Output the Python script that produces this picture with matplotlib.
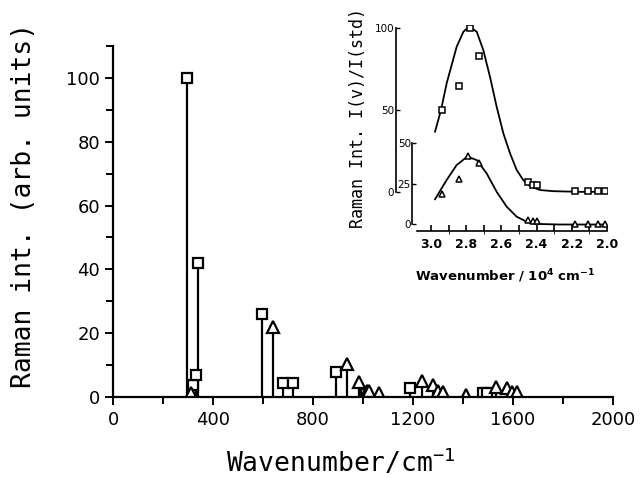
import numpy as np
import matplotlib
matplotlib.use("Agg")
import matplotlib.pyplot as plt

# main spectrum: squares and triangles (wavenumber / cm-1, relative intensity)
sq_wn = [296, 318, 331, 340, 594, 681, 721, 893, 1012, 1187, 1478, 1494]
sq_int = [100, 3.8, 6.9, 42, 26, 4.5, 4.3, 7.9, 0.8, 2.7, 1.2, 1.2]
tri_wn = [310, 640, 937, 982, 1016, 1024, 1062, 1234, 1278, 1299, 1318, 1410, 1531, 1574, 1594, 1614]
tri_int = [1.3, 22, 10.3, 4.7, 1.9, 1.9, 1.3, 5.1, 3.7, 1.8, 1.5, 0.6, 3.0, 2.8, 1.6, 1.6]

# inset: excitation profiles (10^4 cm-1)
in_sq_x = [2.94, 2.84, 2.78, 2.73, 2.45, 2.42, 2.40, 2.18, 2.11, 2.05, 2.01]
in_sq_y = [50, 64.6, 100, 83, 6, 4.3, 4.3, 0.5, 0.5, 0.5, 0.5]
in_tri_x = [2.94, 2.84, 2.79, 2.73, 2.45, 2.42, 2.40, 2.18, 2.11, 2.05, 2.01]
in_tri_y = [18.6, 28, 42.3, 38, 2.8, 2.2, 2.2, 0.5, 0.5, 0.5, 0.5]
# fitted curves
fit_sq_x = [2.977, 2.943, 2.911, 2.854, 2.816, 2.782, 2.74, 2.703, 2.665, 2.627, 2.589,
            2.551, 2.513, 2.476, 2.438, 2.381, 2.305, 2.153, 2.0]
fit_sq_y = [36.8, 50, 66.3, 88.6, 97.7, 101, 97.7, 86.6, 70.3, 52, 35.8,
            23.6, 13.4, 7.3, 3.7, 1.2, 0.5, 0.1, 0.1]
fit_tri_x = [2.977, 2.911, 2.854, 2.794, 2.74, 2.684, 2.627, 2.57, 2.513, 2.456, 2.381, 2.27, 2.0]
fit_tri_y = [15.6, 27.5, 36.7, 41.9, 39.8, 31.6, 20.2, 11.0, 4.8, 1.7, 0.3, 0.0, 0.0]

W, H = 644, 478
fig = plt.figure(figsize=(W / 100, H / 100), dpi=100)

def box(x0, x1, ytop, ybot):
    return [x0 / W, 1 - ybot / H, (x1 - x0) / W, (ybot - ytop) / H]

# ---- main axes
ax = fig.add_axes(box(113.3, 613, 46, 397))
ax.vlines(sq_wn, 0, sq_int, color="black", lw=1.6)
ax.vlines(tri_wn, 0, tri_int, color="black", lw=1.6)
ax.plot(sq_wn, sq_int, ls="none", marker="s", ms=7.5, mfc="white", mec="black", mew=1.6)
ax.plot(tri_wn, tri_int, ls="none", marker="^", ms=8, mfc="white", mec="black", mew=1.6)
ax.set_xlim(0, 2000)
ax.set_ylim(0, 110)
for s in ["top", "right"]:
    ax.spines[s].set_visible(False)
ax.spines["left"].set_linewidth(1.6)
ax.spines["bottom"].set_linewidth(1.6)
ax.set_xticks(np.arange(0, 2001, 400))
ax.set_xticks(np.arange(0, 2001, 200), minor=True)
ax.set_yticks(np.arange(0, 101, 20))
ax.set_yticks(np.arange(0, 111, 10), minor=True)
ax.tick_params(which="both", direction="out", width=1.4, labelsize=13)
ax.tick_params(which="major", length=6)
ax.tick_params(which="minor", length=5)
ax.tick_params(axis="x", pad=4)

fig.text(24 / W, 1 - 205 / H, "Raman int. (arb. units)", rotation=90,
         ha="center", va="center", fontsize=19, family="DejaVu Sans Mono")
fig.text(341 / W, 1 - 463 / H, r"Wavenumber/cm$^{\mathregular{-1}}$",
         ha="center", va="center", fontsize=19, family="DejaVu Sans Mono")

# ---- inset
ylo0, px_lo = 224.5, 1.62
yup0, px_up = 192, 1.64
ibot, itop = 230.7, 25
ax_lo = fig.add_axes(box(416.7, 607, itop, ibot))
ax_up = fig.add_axes(box(416.7, 607, itop, ibot), sharex=ax_lo)
ax_up.patch.set_visible(False)

ax_lo.plot(fit_tri_x, fit_tri_y, color="black", lw=1.3)
ax_lo.plot(in_tri_x, in_tri_y, ls="none", marker="^", ms=5, mfc="white", mec="black", mew=1.1)
ax_up.plot(fit_sq_x, fit_sq_y, color="black", lw=1.3)
ax_up.plot(in_sq_x, in_sq_y, ls="none", marker="s", ms=4.5, mfc="white", mec="black", mew=1.1)

ax_lo.set_xlim(3.0 + (431 - 416.7) / 176, 2.0)
ax_lo.set_ylim(-(ibot - ylo0) / px_lo, (ylo0 - itop) / px_lo)
ax_up.set_ylim(-(ibot - yup0) / px_up, (yup0 - itop) / px_up)

for s in ["top", "right"]:
    ax_lo.spines[s].set_visible(False)
for s in ["top", "right", "bottom"]:
    ax_up.spines[s].set_visible(False)
ax_lo.spines["left"].set_position(("outward", 3.2))
ax_lo.spines["left"].set_bounds(0, 50)
ax_up.spines["left"].set_position(("outward", 15.1))
ax_up.spines["left"].set_bounds(0, 100)
for a in (ax_lo, ax_up):
    for s in a.spines.values():
        s.set_linewidth(1.2)

ax_lo.set_xticks(np.arange(2.0, 3.01, 0.2))
ax_lo.set_xticks(np.arange(2.0, 3.01, 0.1), minor=True)
ax_lo.xaxis.set_major_formatter(matplotlib.ticker.FormatStrFormatter("%.1f"))
ax_lo.tick_params(axis="x", which="both", direction="in", length=4, width=1.2,
                  labelsize=9, pad=5)
for t in ax_lo.get_xticklabels():
    t.set_fontweight("bold")
ax_lo.set_yticks([0, 25, 50])
ax_lo.tick_params(axis="y", direction="in", length=3, width=1, labelsize=7.5, pad=1)
ax_up.set_yticks([0, 50, 100])
ax_up.tick_params(axis="y", direction="in", length=3, width=1, labelsize=7.5, pad=1)
ax_up.tick_params(axis="x", bottom=False, labelbottom=False)

fig.text(358 / W, 1 - 118 / H, "Raman Int. I(v)/I(std)", rotation=90,
         ha="center", va="center", fontsize=12, family="DejaVu Sans Mono")
fig.text(505 / W, 1 - 276 / H, r"Wavenumber / 10$^{\mathregular{4}}$ cm$^{\mathregular{-1}}$",
         ha="center", va="center", fontsize=9.5, fontweight="bold")

fig.savefig("out.png", dpi=100)
